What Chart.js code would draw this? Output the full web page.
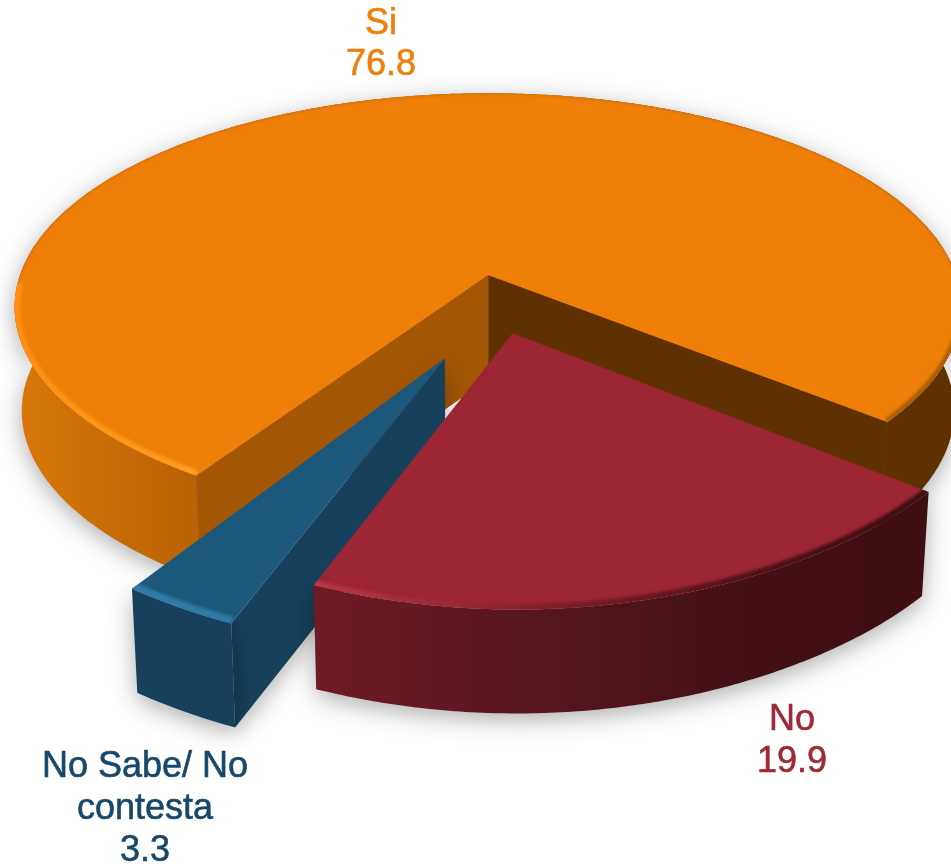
<!DOCTYPE html>
<html lang="es">
<head>
  <meta charset="UTF-8" />
  <title>Si / No / No Sabe</title>
  <script src="https://cdn.jsdelivr.net/npm/chart.js"></script>
  <style>
    html, body { margin: 0; background: #fff; overflow: hidden; }
    canvas { display: block; }
  </style>
</head>
<body>
<canvas id="pie" width="951" height="866"></canvas>

<script>
  const categories = ['Si', 'No', 'No Sabe/ No contesta'];
  const values = [76.8, 19.9, 3.3];
  const labelLines = [['Si', '76.8'], ['No', '19.9'], ['No Sabe/ No', 'contesta', '3.3']];
  const topColors = ['#ef7f09', '#9c2534', '#1b587c'];
  const textColors = ['#f07f09', '#9f2936', '#17486a'];
  const sliceOffsets = [0, 99, 140];

  // fake 3D camera, fitted by eye on the picture
  const cam = { cx: 488, cy: 275, a: 468, b: 209, k: 0.15, q: 0.12, depth: 104, narrow: 0.015 };
  // pulled-out slices do not go exactly along their middle angle
  const explodeTurn = [0, 4, -14];
  const sliceScale = [1, 0.99, 0.985];
  const drawOrder = [0, 2, 1];

  const labelBoxes = [
    { x: 381, y: 24, step: 41 },
    { x: 792, y: 720, step: 42 },
    { x: 145, y: 767, step: 42 }
  ];

  function project(u, v, z) {
    const s = 1 / (1 - cam.k * v);
    // the very front stretches a bit more in y than a plain perspective gives
    const far = Math.max(v - 0.8, 0);
    const sy = 1 / (1 - cam.k * v - cam.q * far * far);
    return {
      x: cam.cx + cam.a * u * s * (1 - cam.narrow * z),
      y: cam.cy + cam.b * v * sy + cam.depth * z
    };
  }

  function sliceGeometry(arc, i) {
    const mid = (arc.startAngle + arc.endAngle) / 2 + explodeTurn[i] * Math.PI / 180;
    const off = arc.options.offset / arc.outerRadius;
    const ou = Math.cos(mid) * off, ov = Math.sin(mid) * off;
    const rim = [];
    const steps = Math.ceil((arc.endAngle - arc.startAngle) / 0.01);
    for (let n = 0; n <= steps; n++) {
      const t = arc.startAngle + (arc.endAngle - arc.startAngle) * n / steps;
      rim.push([ou + sliceScale[i] * Math.cos(t), ov + sliceScale[i] * Math.sin(t)]);
    }
    return { tip: [ou, ov], rim };
  }

  function trace(ctx, pts) {
    pts.forEach((p, n) => n ? ctx.lineTo(p.x, p.y) : ctx.moveTo(p.x, p.y));
  }

  function horizGradient(ctx, x0, x1, stops) {
    const g = ctx.createLinearGradient(x0, 0, x1, 0);
    stops.forEach(s => g.addColorStop(s[0], s[1]));
    return g;
  }

  function wall(ctx, a, b, fill, shadow) {
    const top = a.concat(b).map(p => project(p[0], p[1], 0));
    const bottom = a.concat(b).map(p => project(p[0], p[1], 1)).reverse();
    ctx.save();
    if (shadow) {
      ctx.shadowColor = 'rgba(0,0,0,0.32)';
      ctx.shadowBlur = 24;
      ctx.shadowOffsetY = 6;
    }
    ctx.beginPath();
    trace(ctx, top.concat(bottom));
    ctx.closePath();
    ctx.fillStyle = fill;
    ctx.fill();
    ctx.restore();
    if (!shadow) {
      ctx.strokeStyle = fill;
      ctx.lineWidth = 1;
      ctx.stroke();
    }
  }

  function strokeBevel(ctx, facePts, pts, style, width) {
    ctx.save();
    ctx.beginPath();
    trace(ctx, facePts);
    ctx.closePath();
    ctx.clip();
    ctx.filter = 'blur(1.5px)';
    ctx.beginPath();
    trace(ctx, pts);
    ctx.strokeStyle = style;
    ctx.lineWidth = width;
    ctx.stroke();
    ctx.restore();
  }

  function drawSlice(ctx, arc, i) {
    const g = sliceGeometry(arc, i);
    const first = g.rim[0], last = g.rim[g.rim.length - 1];
    const facePts = [g.tip].concat(g.rim).map(p => project(p[0], p[1], 0));
    const rimPts = g.rim.map(p => project(p[0], p[1], 0));

    if (i === 0) {
      wall(ctx, g.rim, [], horizGradient(ctx, 15, 951, [
        [0, '#d87808'], [0.1, '#c86c06'], [0.2, '#b86205'],
        [0.5, '#8a4a03'], [0.75, '#5f3100'], [1, '#5f3100']
      ]), true);
      wall(ctx, [g.tip], [last], '#5f3100', false);
      wall(ctx, [g.tip], [first], '#a35705', false);
    } else if (i === 1) {
      wall(ctx, g.rim, [], horizGradient(ctx, rimPts[rimPts.length - 1].x, rimPts[0].x, [
        [0, '#6f1b26'], [0.35, '#581620'], [0.7, '#430f15'], [1, '#3d0d12']
      ]), true);
    } else {
      wall(ctx, [g.tip], [first], '#16405c', true);
      wall(ctx, g.rim, [], '#16405c', true);
    }

    // top face
    ctx.beginPath();
    trace(ctx, facePts);
    ctx.closePath();
    ctx.fillStyle = topColors[i];
    ctx.fill();

    // soft bevel along the outer rim, only inside the face
    const xs = rimPts.map(p => p.x);
    if (i === 0) {
      // only the front parts of the big slice catch the light
      const cut = g.rim.findIndex(p => p[1] < 0.03);
      const back = g.rim.length - 1 - g.rim.slice().reverse().findIndex(p => p[1] < 0.03);
      strokeBevel(ctx, facePts, rimPts, '#c9700a', 2);
      strokeBevel(ctx, facePts, rimPts.slice(0, cut), horizGradient(ctx, 15, 200, [[0, '#ff8f14'], [0.85, '#ff9a1e'], [1, '#ffa028']]), 11);
      strokeBevel(ctx, facePts, rimPts.slice(back), '#a85d05', 8);
    } else if (i === 1) {
      strokeBevel(ctx, facePts, rimPts, horizGradient(ctx, Math.min(...xs), Math.max(...xs), [
        [0, '#b93748'], [0.4, '#7d1c29'], [0.75, '#4a1018'], [1, '#3d0d12']
      ]), 11);
    } else {
      strokeBevel(ctx, facePts, rimPts, '#2f7ba6', 14);
    }
  }

  const pie3d = {
    id: 'pie3d',
    beforeDatasetDraw(chart, args) {
      const ctx = chart.ctx;
      const arcs = chart.getDatasetMeta(args.index).data;
      drawOrder.forEach(i => drawSlice(ctx, arcs[i], i));
      return false;
    },
    afterDraw(chart) {
      const ctx = chart.ctx;
      ctx.save();
      ctx.font = '36px "Liberation Sans"';
      ctx.textAlign = 'center';
      ctx.textBaseline = 'middle';
      ctx.lineWidth = 0.6;
      labelLines.forEach((lines, i) => {
        ctx.fillStyle = textColors[i];
        ctx.strokeStyle = textColors[i];
        lines.forEach((line, n) => {
          const y = labelBoxes[i].y + n * labelBoxes[i].step;
          ctx.fillText(line, labelBoxes[i].x, y);
          ctx.strokeText(line, labelBoxes[i].x, y);
        });
      });
      ctx.restore();
    }
  };

  new Chart(document.getElementById('pie').getContext('2d'), {
    type: 'pie',
    data: {
      labels: categories,
      datasets: [{
        data: values,
        backgroundColor: topColors,
        offset: sliceOffsets,
        borderWidth: 0
      }]
    },
    options: {
      responsive: false,
      animation: false,
      rotation: 213,
      plugins: { legend: { display: false }, tooltip: { enabled: false } }
    },
    plugins: [pie3d]
  });
</script>
</body>
</html>
